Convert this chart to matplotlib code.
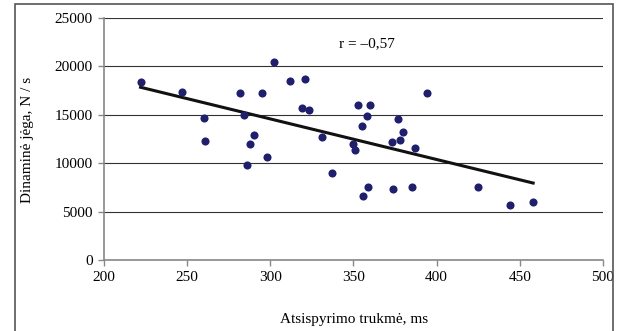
import matplotlib
matplotlib.use("Agg")
import matplotlib.pyplot as plt
import numpy as np
from matplotlib.patches import Rectangle

plt.rcParams['font.family'] = ['Liberation Serif', 'DejaVu Serif']

# data
trukme = [222, 247, 260, 261, 282, 284, 286, 288, 290, 295, 298, 302, 312,
          319, 321, 323, 331, 337, 350, 351, 353, 355, 356, 358, 359, 360,
          373, 374, 377, 378, 380, 385, 387, 394, 425, 444, 458]
jega = [18400, 17400, 14700, 12300, 17250, 14950, 9800, 12000, 12900, 17250,
        10650, 20500, 18450, 15750, 18700, 15450, 12750, 9000, 12000, 11400,
        16050, 13800, 6600, 14850, 7500, 16050, 12150, 7350, 14550, 12400,
        13200, 7500, 11550, 17250, 7500, 5700, 6000]
x_ticks = [200, 250, 300, 350, 400, 450, 500]
y_ticks = [0, 5000, 10000, 15000, 20000, 25000]

x = np.array(trukme)
y = np.array(jega)
k, b = np.polyfit(x, y, 1)
xf = np.array([x.min(), x.max()])

fig = plt.figure(figsize=(6.22, 3.31), dpi=100)
ax = fig.add_axes([104 / 622, 1 - 260 / 331, 499 / 622, 242 / 331])

ax.grid(axis='y', color='#333333', linewidth=0.8)
ax.set_axisbelow(True)
ax.plot(xf, k * xf + b, color='#111111', linewidth=2.2, zorder=2)
ax.scatter(x, y, s=34, color='#1f1f6e', zorder=3, linewidths=0)

ax.set_xlim(200, 500)
ax.set_ylim(0, 25000)
ax.set_xticks(x_ticks)
ax.set_yticks(y_ticks)
ax.tick_params(labelsize=11, color='#888888', length=4, width=1, pad=4)
for s in ['top', 'right']:
    ax.spines[s].set_visible(False)
for s in ['left', 'bottom']:
    ax.spines[s].set_color('#888888')
    ax.spines[s].set_linewidth(1.2)

ax.text(358, 22350, 'r = –0,57', fontsize=11, ha='center', va='center')
fig.text(354 / 622, 1 - 320 / 331, 'Atsispyrimo trukmė, ms', fontsize=11,
         ha='center', va='center')
fig.text(27 / 622, 1 - 140 / 331, 'Dinaminė jėga, N / s', fontsize=11,
         ha='center', va='center', rotation=90)

# outer frame
fig.patches.append(Rectangle((15 / 622, -0.05), 598 / 622, 1.05 - 4 / 331,
                             transform=fig.transFigure, fill=False,
                             edgecolor='#555555', linewidth=1.2))

fig.savefig('out.png', dpi=100)
